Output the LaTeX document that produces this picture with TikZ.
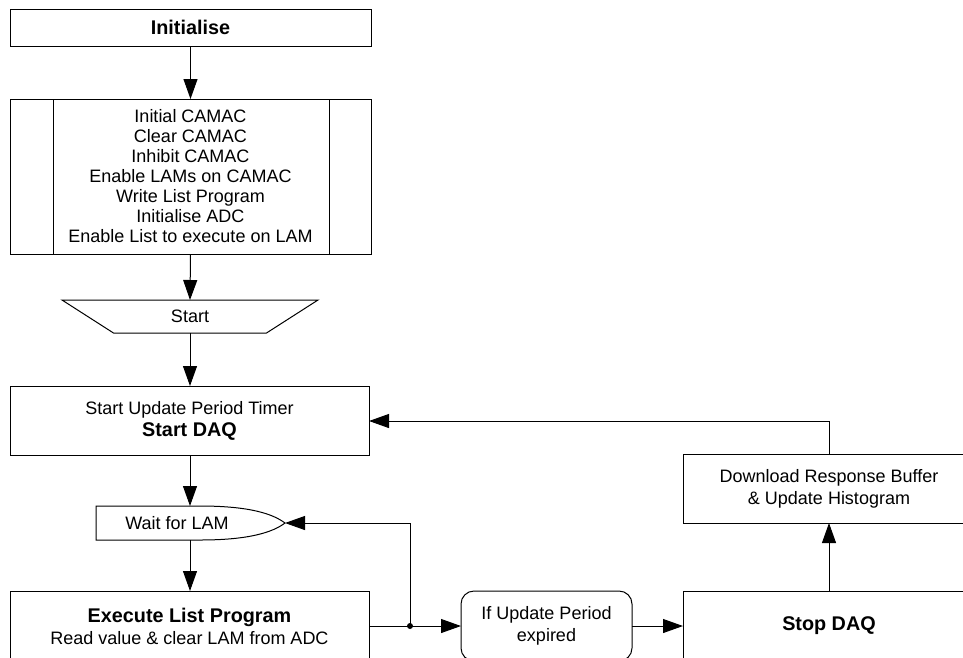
\documentclass[tikz,border=0pt]{standalone}
\usepackage{fontspec}
\setmainfont{Liberation Sans}
\usetikzlibrary{arrows.meta,calc}
\newcommand\bigbold[1]{{\fontsize{19.8}{22}\selectfont\bfseries #1}}
\begin{document}
\begin{tikzpicture}[x=1pt,y=-1pt,
  every node/.style={inner sep=0pt, outer sep=0pt, align=center},
  reg/.style={font=\fontsize{18}{22}\selectfont},
  box/.style={draw, line width=1pt, reg},
  arr/.style={-{Triangle[length=20pt,width=14pt]}, line width=1pt},
  ln/.style={line width=1pt}]
\clip (0,0) rectangle (963,657);
\fill[white] (0,0) rectangle (963,657);
% nodes
\node[box, minimum width=361pt, minimum height=37pt] (init) at (190.5,27.5) {\bigbold{Initialise}};
\node[box, minimum width=361pt, minimum height=155pt, font=\fontsize{18}{20}\selectfont] (sub) at (190.5,176.5)
  {Initial CAMAC\\Clear CAMAC\\Inhibit CAMAC\\Enable LAMs on CAMAC\\Write List Program\\Initialise ADC\\Enable List to execute on LAM};
\draw[ln] ($(sub.north west)+(43,0)$) -- ($(sub.south west)+(43,0)$);
\draw[ln] ($(sub.north east)+(-42,0)$) -- ($(sub.south east)+(-42,0)$);
\node[reg, minimum width=256pt, minimum height=33pt] (start) at (190,316.5) {Start};
\draw[ln] (start.north west) -- (start.north east) -- ($(start.south east)+(-51.5,0)$) -- ($(start.south west)+(51.5,0)$) -- cycle;
\node[box, minimum width=359pt, minimum height=69pt] (upd) at (189.5,420.5) {Start Update Period Timer\\\bigbold{Start DAQ}};
\node[reg, minimum width=189pt, minimum height=34pt] (wait) at (190.5,523) {};
\draw[ln] (wait.north west) -- ($(wait.north east)+(-85,0)$) .. controls ($(wait.north east)+(-35,0)$) and ($(wait.east)+(-12,-9)$) .. (wait.east)
  .. controls ($(wait.east)+(-12,9)$) and ($(wait.south east)+(-35,0)$) .. ($(wait.south east)+(-85,0)$) -- (wait.south west) -- cycle;
\node[reg] (waitlbl) at (177,523) {Wait for LAM};
\node[box, minimum width=359pt, minimum height=70pt] (exec) at (189.5,626) {\bigbold{Execute List Program}\\Read value \& clear LAM from ADC};
\node[box, rounded corners=13pt, minimum width=171pt, minimum height=70pt] (ifup) at (546.5,626) {If Update Period\\expired};
\node[box, minimum width=292pt, minimum height=70pt] (stop) at (829,626) {\bigbold{Stop DAQ}};
\node[box, minimum width=292pt, minimum height=69pt] (dl) at (829,488.5) {Download Response Buffer\\\& Update Histogram};
\coordinate (j) at (410,626);
% connectors
\draw[arr] (init.south) -- (sub.north -| init.south);
\draw[arr] (sub.south -| init.south) -- (start.north);
\draw[arr] (start.south) -- (upd.north -| start.south);
\draw[arr] (upd.south -| start.south) -- (wait.north -| start.south);
\draw[arr] (wait.south -| start.south) -- (exec.north -| start.south);
\draw[ln] (exec.east) -- (j);
\draw[arr] (j) -- (ifup.west);
\draw[arr] (j) |- (wait.east);
\fill (j) circle (3pt);
\draw[arr] (ifup.east) -- (stop.west);
\draw[arr] (stop.north) -- (dl.south);
\draw[arr] (dl.north) |- ($(upd.east)+(0,0.5)$);
\end{tikzpicture}
\end{document}
